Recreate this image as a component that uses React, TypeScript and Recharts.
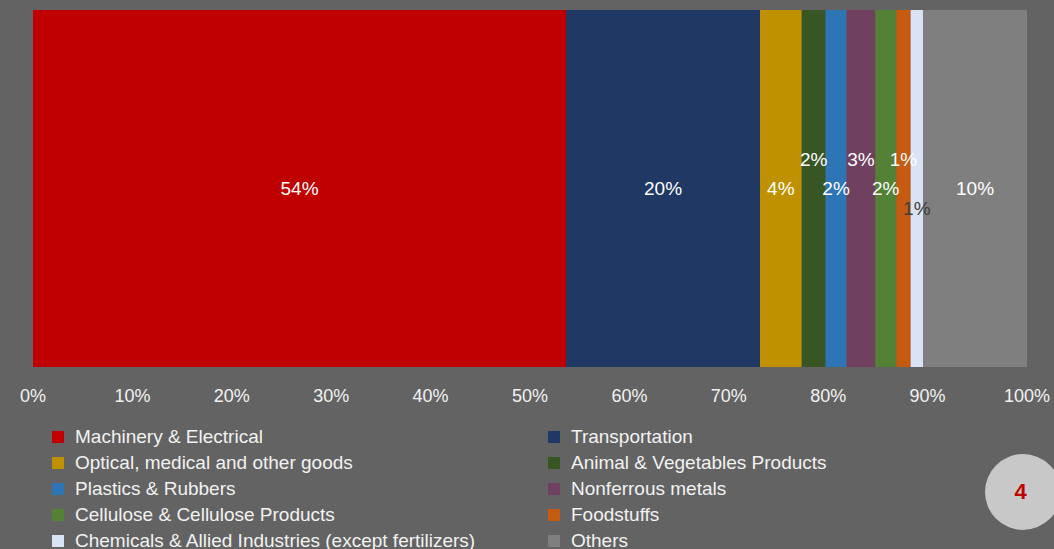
import { BarChart, Bar, XAxis, YAxis, Legend, LabelList } from 'recharts';

const categories = ['Exports'];

const seriesNames = [
  'Machinery & Electrical',
  'Transportation',
  'Optical, medical and other goods',
  'Animal & Vegetables Products',
  'Plastics & Rubbers',
  'Nonferrous metals',
  'Cellulose & Cellulose Products',
  'Foodstuffs',
  'Chemicals & Allied Industries (except fertilizers)',
  'Others',
];

// share of total, percent
const seriesValues = [53.6, 19.5, 4.2, 2.4, 2.1, 2.9, 2.1, 1.45, 1.25, 10.45];

const xTicks = [0, 0.1, 0.2, 0.3, 0.4, 0.5, 0.6, 0.7, 0.8, 0.9, 1];

const colors = [
  '#C00000',
  '#1F3864',
  '#BF9000',
  '#375623',
  '#2E75B6',
  '#70405F',
  '#538135',
  '#C55A11',
  '#DAE3F3',
  '#7F7F7F',
];

// vertical nudge of the value label, and its colour
const labelShift = [0, 0, 0, -29, 0, -29, 0, -29, 20, 0];
const labelColor = ['#fff', '#fff', '#fff', '#fff', '#fff', '#fff', '#fff', '#fff', '#404040', '#fff'];

const keys = seriesNames.map((_, i) => `s${i}`);

const data = categories.map((name) => {
  const row: Record<string, string | number> = { name };
  keys.forEach((k, i) => {
    row[k] = seriesValues[i];
  });
  return row;
});

const FONT = '"Liberation Sans", Arial, sans-serif';

function makeLabel(i: number) {
  return (props: any) => {
    const { x, y, width, height, value } = props;
    return (
      <text
        x={x + width / 2}
        y={y + height / 2 + labelShift[i]}
        textAnchor="middle"
        dominantBaseline="central"
        fill={labelColor[i]}
        fontSize={19}
        fontFamily={FONT}
      >
        {Math.round(value)}%
      </text>
    );
  };
}

function LegendGrid() {
  return (
    <div
      style={{
        display: 'grid',
        gridTemplateColumns: '496px 480px',
        paddingLeft: 52,
        fontFamily: FONT,
        fontSize: 19,
        color: '#F2F2F2',
      }}
    >
      {seriesNames.map((n, i) => (
        <div key={n} style={{ display: 'flex', alignItems: 'center', height: 26, whiteSpace: 'nowrap' }}>
          <span style={{ width: 12, height: 12, background: colors[i], marginRight: 11, flexShrink: 0 }} />
          <span>{n}</span>
        </div>
      ))}
    </div>
  );
}

export default function App() {
  return (
    <div
      style={{
        position: 'absolute',
        left: 0,
        top: 0,
        width: 1054,
        height: 549,
        background: '#636363',
        overflow: 'hidden',
      }}
    >
      <BarChart
        width={1054}
        height={549}
        data={data}
        layout="vertical"
        stackOffset="expand"
        barCategoryGap={0}
        margin={{ top: 10, right: 27, bottom: 152, left: 33 }}
      >
        <XAxis
          type="number"
          domain={[0, 1]}
          ticks={xTicks}
          tickFormatter={(v: number) => `${Math.round(v * 100)}%`}
          axisLine={false}
          tickLine={false}
          tickSize={0}
          tickMargin={22}
          tick={{ fill: '#F2F2F2', fontSize: 18, fontFamily: FONT }}
          interval={0}
          height={30}
        />
        <YAxis
          type="category"
          dataKey="name"
          width={0}
          tick={false}
          tickLine={false}
          axisLine={{ stroke: '#A6A6A6', strokeWidth: 1 }}
        />
        <Legend
          layout="vertical"
          align="center"
          verticalAlign="middle"
          content={() => <LegendGrid />}
          wrapperStyle={{ left: 0, top: 424, width: 1054 }}
        />
        {keys.map((k, i) => (
          <Bar key={k} dataKey={k} name={seriesNames[i]} stackId="a" fill={colors[i]} isAnimationActive={false}>
            <LabelList dataKey={k} content={makeLabel(i)} />
          </Bar>
        ))}
      </BarChart>
      <div
        style={{
          position: 'absolute',
          left: 985,
          top: 454,
          width: 76,
          height: 76,
          borderRadius: '50%',
          background: '#C8C8C8',
          display: 'flex',
          alignItems: 'center',
          justifyContent: 'center',
          paddingRight: 5,
          boxSizing: 'border-box',
          color: '#C00000',
          fontFamily: FONT,
          fontWeight: 'bold',
          fontSize: 22,
        }}
      >
        4
      </div>
    </div>
  );
}
